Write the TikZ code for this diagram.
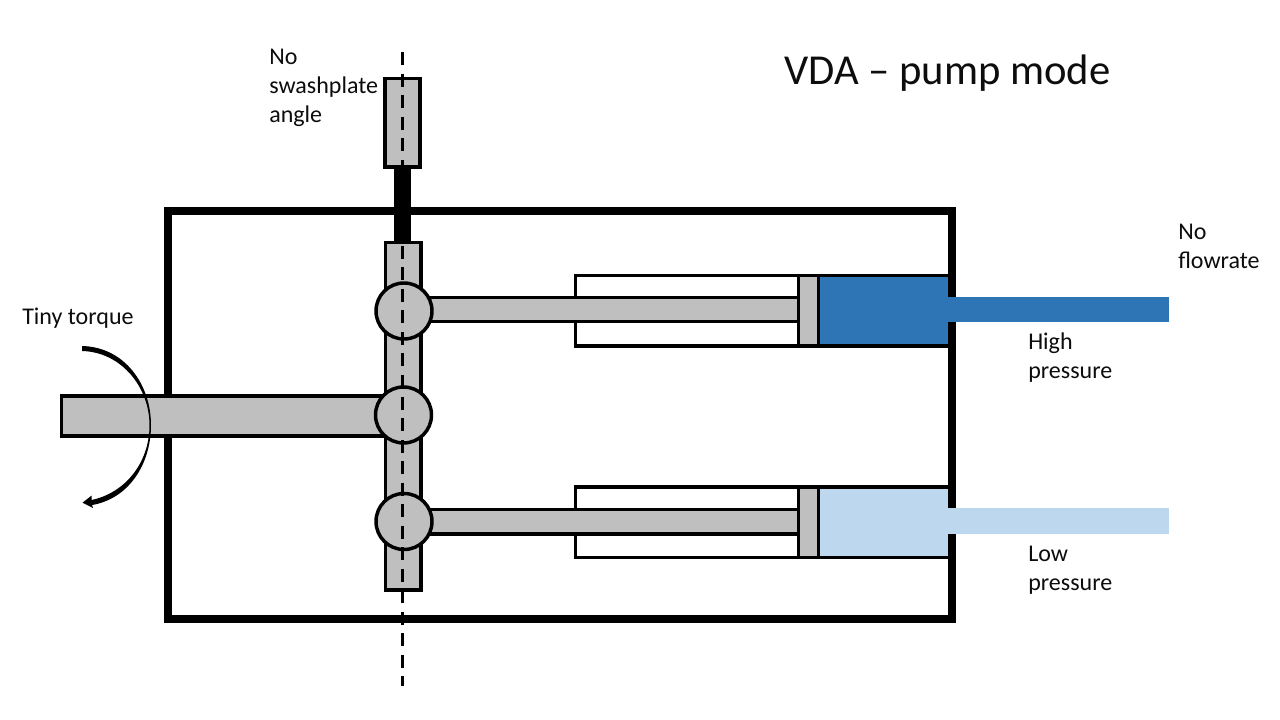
\documentclass[tikz,border=0pt]{standalone}
\usepackage{fontspec}
\setmainfont{Carlito}
\definecolor{partgray}{HTML}{BFBFBF}
\definecolor{hpblue}{HTML}{2E75B6}
\definecolor{lpblue}{HTML}{BDD7EE}
\tikzset{
  part/.style={draw=black,fill=partgray,line width=2.6pt,miter limit=10},
  bore/.style={draw=black,fill=white,line width=2.6pt},
  lab/.style={anchor=base west,inner sep=0pt,font=\fontsize{18pt}{21.75pt}\selectfont,text=black!95,align=left},
  title/.style={anchor=base west,inner sep=0pt,font=\fontsize{32pt}{38pt}\selectfont,text=black!95}
}
\begin{document}
\begin{tikzpicture}[x=0.75pt,y=-0.75pt]
\useasboundingbox (0,0) rectangle (1280,720);
\fill[white] (0,0) rectangle (1280,720);
% housing
\draw[line width=5.6pt] (168,211) rectangle (952,619);
% stem above the housing
\fill[black] (394,167) rectangle (411,243);
\draw[part] (385,78.5) rectangle (420,167);
% cylinders
\draw[bore] (575.5,275.5) rectangle (800,346);
\draw[bore] (575.5,487) rectangle (800,557.5);
% rods
\draw[part] (415,297.5) rectangle (798.5,321.5);
\draw[part] (415,509.5) rectangle (798.5,534);
% fluid
\draw[black,line width=2.6pt,fill=hpblue] (818.5,275.5) rectangle (949.5,346);
\draw[black,line width=2.6pt,fill=lpblue] (818.5,487) rectangle (949.5,557.5);
\fill[hpblue] (945,297) rectangle (1169,322);
\fill[lpblue] (945,508) rectangle (1169,534);
% pistons
\draw[part] (798.5,275.5) rectangle (818.5,346);
\draw[part] (798.5,487) rectangle (818.5,557.5);
% shaft and swashplate
\draw[part] (61.5,396) rectangle (392,436);
\draw[part] (385.5,242.5) rectangle (421,590);
\draw[part] (404,311) circle (28);
\draw[part] (403.5,415) circle (28);
\draw[part] (404,521.5) circle (28);
% centre line
\draw[black,line width=2pt,dash pattern=on 9.75pt off 6.4pt] (402.5,52) -- (402.5,686);
% torque arrow
\fill[black] (82,346) .. controls (125,347) and (151,385) .. (151,425)
  .. controls (151,465) and (128,499) .. (92,505)
  -- (93,508) -- (82.5,502.7) -- (91.7,495.5) -- (91.5,500)
  .. controls (125,493) and (149.5,463) .. (149.5,425)
  .. controls (149.5,388) and (122,352) .. (82,351) -- cycle;
% labels
\node[lab] (swash) at (269,123) {No\\swashplate\\angle};
\node[title] (ttl) at (784,85) {VDA – pump mode};
\node[lab] (torque) at (22,324) {Tiny torque};
\node[lab] (flow) at (1178,268) {No\\flowrate};
\node[lab] (high) at (1028,378) {High\\pressure};
\node[lab] (low) at (1028,590) {Low\\pressure};
\end{tikzpicture}
\end{document}
